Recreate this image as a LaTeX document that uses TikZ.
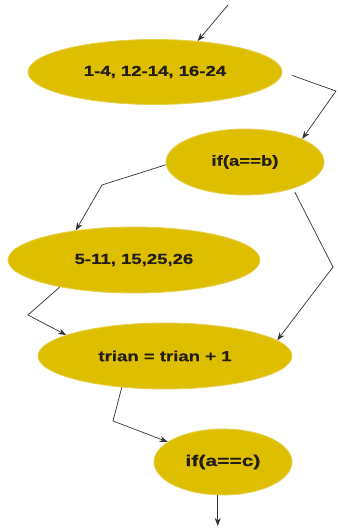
\documentclass[tikz,border=0pt]{standalone}
\usepackage{fontspec}
\setmainfont{Liberation Sans}[BoldFeatures={FakeBold=0.6}]
\usetikzlibrary{shapes.geometric,arrows.meta}
\definecolor{goldfill}{RGB}{222,191,0}
\definecolor{goldedge}{RGB}{230,208,80}
\definecolor{linegray}{RGB}{50,50,55}
\definecolor{txt}{RGB}{35,30,20}
\tikzset{
  blob/.style={ellipse, fill=goldfill, draw=goldedge, line width=0.8pt, inner sep=0pt, text=txt},
  conn/.style={draw=linegray, line width=0.7pt, -{Stealth[length=8pt,width=6pt]}},
}
\newcommand{\lbl}[2][14.5]{\fontsize{#1}{#1}\bfseries\scalebox{1.28}[1]{#2}}
\begin{document}
\begin{tikzpicture}[x=1pt,y=-1pt]
\useasboundingbox (0,0) rectangle (337,529);
% nodes
\node[blob, minimum width=254pt, minimum height=65pt] (e1) at (155,72) {\lbl{1-4, 12-14, 16-24}};
\node[blob, minimum width=158pt, minimum height=66pt] (e2) at (245,162) {\lbl{if(a==b)}};
\node[blob, minimum width=252pt, minimum height=66pt] (e3) at (134,260) {\lbl{5-11, 15,25,26}};
\node[blob, minimum width=254pt, minimum height=66pt] (e4) at (165,356) {\lbl{trian = trian + 1}};
\node[blob, minimum width=138pt, minimum height=66pt] (e5) at (223,462) {\fontsize{15.5}{15.5}\bfseries\scalebox{1.36}[1]{if(a==c)}};
% free ends and bends
\coordinate (top) at (228,5);
\coordinate (bB) at (336,91);
\coordinate (bC) at (102,185);
\coordinate (bD) at (333,267);
\coordinate (bE) at (28,315);
\coordinate (bF) at (113,421);
\coordinate (gend) at (218,526);
% connectors
\draw[conn] (top) -- (e1.36);
\draw[conn, shorten <=10pt] (e1.east) -- (bB) -- (e2.22);
\draw[conn] (e2.182) -- (bC) -- (e3.153);
\draw[conn, shorten <=4pt] (e2.-29) -- (bD) -- (e4.8);
\draw[conn] (e3.200) -- (bE) -- (e4.168);
\draw[conn] (e4.216) -- (bF) -- (e5.160);
\draw[conn] (e5.261) -- (e5.261 |- gend);
\end{tikzpicture}
\end{document}
